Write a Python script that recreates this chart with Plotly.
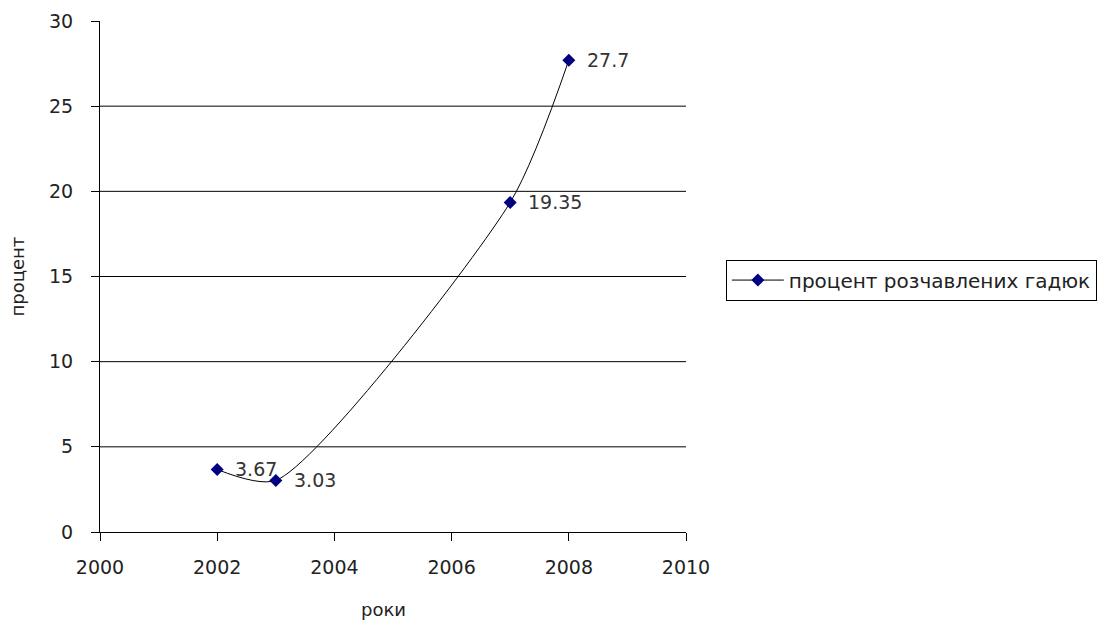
import plotly.graph_objects as go

# Data
years = [2002, 2003, 2007, 2008]
percent = [3.67, 3.03, 19.35, 27.7]
value_labels = ["3.67", "3.03", "19.35", "27.7"]
series_name = "процент розчавлених гадюк"
x_ticks = [2000, 2002, 2004, 2006, 2008, 2010]
y_ticks = [0, 5, 10, 15, 20, 25, 30]

FONT = "DejaVu Sans, Verdana, sans-serif"

fig = go.Figure()

fig.add_trace(go.Scatter(
    x=years,
    y=percent,
    mode="lines+markers",
    name=series_name,
    line=dict(color="black", width=1, shape="spline", smoothing=0.7),
    marker=dict(symbol="diamond", size=10, color="#000080",
                line=dict(color="#000080", width=0)),
))

# Value labels to the right of each point
for x, y, t in zip(years, percent, value_labels):
    fig.add_annotation(
        x=x, y=y, text=t, showarrow=False,
        xanchor="left", yanchor="middle", xshift=16,
        font=dict(family=FONT, size=19, color="#333333"),
    )

# Axis titles
fig.add_annotation(
    xref="paper", yref="paper", x=-0.14, y=0.5, text="процент",
    textangle=-90, showarrow=False, xanchor="center", yanchor="middle",
    font=dict(family=FONT, size=18, color="#222222"),
)
fig.add_annotation(
    xref="paper", yref="paper", x=0.483, y=-0.151, text="роки",
    showarrow=False, xanchor="center", yanchor="middle",
    font=dict(family=FONT, size=18, color="#222222"),
)

fig.update_layout(
    width=1109, height=622,
    margin=dict(l=100, r=423, t=21, b=90, autoexpand=False),
    paper_bgcolor="white", plot_bgcolor="white",
    font=dict(family=FONT, size=19, color="#222222"),
    showlegend=True,
    legend=dict(
        x=1.068, y=0.493, xanchor="left", yanchor="middle",
        bordercolor="black", borderwidth=1, bgcolor="white",
        font=dict(family=FONT, size=20, color="#222222"),
        itemwidth=52,
    ),
    xaxis=dict(
        range=[2000, 2010], tickvals=x_ticks,
        showgrid=False, zeroline=False,
        showline=True, linecolor="black", linewidth=1,
        ticks="outside", ticklen=8, tickcolor="black",
        ticklabelstandoff=10,
    ),
    yaxis=dict(
        range=[0, 30], tickvals=y_ticks,
        showgrid=False, zeroline=False,
        showline=True, linecolor="black", linewidth=1,
        ticks="outside", ticklen=8, tickcolor="black",
        ticklabelstandoff=14,
    ),
)

# Horizontal gridlines at 5..25
for v in y_ticks[1:-1]:
    fig.add_shape(type="line", xref="paper", yref="y", x0=0, x1=1, y0=v, y1=v,
                  line=dict(color="black", width=1), layer="below")

fig.write_html("out.html")
